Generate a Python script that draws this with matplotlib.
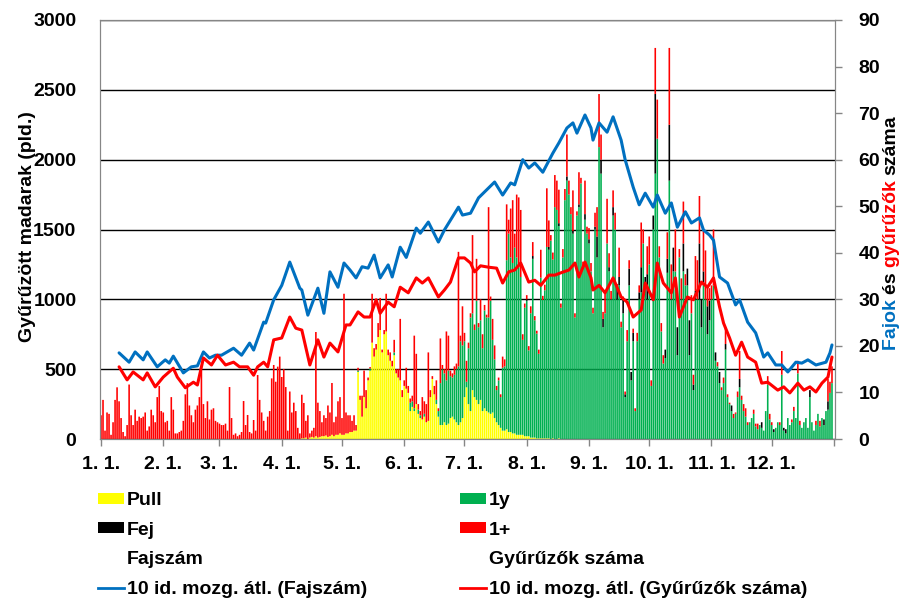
import numpy as np
import matplotlib
matplotlib.use("Agg")
import matplotlib.pyplot as plt
from matplotlib.patches import Patch
from matplotlib.lines import Line2D

plt.rcParams['font.family'] = ['Liberation Sans', 'DejaVu Sans']
plt.rcParams['font.weight'] = 'bold'
plt.rcParams['font.size'] = 14

# -------------------------
# DATA (day of year 0..364)
# -------------------------
month_starts = [0, 31, 59, 90, 120, 151, 181, 212, 243, 273, 304, 334]
month_labels = ['1. 1.', '2. 1.', '3. 1.', '4. 1.', '5. 1.', '6. 1.',
                '7. 1.', '8. 1.', '9. 1.', '10. 1.', '11. 1.', '12. 1.']

# Pull (juveniles), days 100..242, zero otherwise
pull = [0] * 100 + [
    5, 5, 10, 0, 10, 15, 10, 20, 10, 15, 20, 20, 25, 15, 20, 30, 20, 30, 30, 40,
    # May
    30, 30, 40, 40, 50, 50, 60, 60, 480, 280, 160, 300, 220, 420, 490, 690,
    590, 640, 730, 780, 620, 750, 770, 600, 560, 520, 600, 470, 440, 420, 300,
    # June
    380, 360, 330, 200, 230, 200, 250, 180, 150, 140, 160, 120, 130, 300, 430,
    320, 250, 160, 100, 100, 120, 100, 110, 150, 160, 140, 120, 100, 120, 150,
    # July
    300, 370, 250, 200, 350, 300, 280, 250, 280, 200, 220, 200, 190, 180, 190,
    150, 120, 100, 80, 60, 60, 70, 50, 50, 40, 40, 30, 30, 30, 30, 20,
    # August
    20, 20, 10, 10, 10, 5, 5, 5, 5, 5, 5, 5, 0, 5, 0, 0, 5, 0, 0, 0, 0, 0, 0,
    0, 0, 0, 0, 0, 0, 0, 0,
] + [0] * 122

# 1y
egyeves = [0] * 120 + [
    # May
    0, 0, 0, 0, 0, 0, 0, 0, 10, 0, 0, 0, 0, 0, 15, 0, 0, 0, 0, 0, 0, 0, 0, 0,
    0, 0, 20, 0, 0, 0, 0,
    # June
    0, 0, 0, 60, 40, 20, 0, 30, 20, 0, 20, 0, 0, 0, 0, 0, 30, 40, 300, 400,
    350, 320, 380, 300, 280, 320, 380, 420, 580, 520,
    # July
    400, 40, 400, 670, 550, 480, 710, 550, 570, 450, 700, 670, 680, 810, 520,
    420, 230, 320, 220, 450, 460, 1210, 1420, 1250, 1220, 1330, 1270, 1200,
    1130, 680, 920,
    # August
    970, 615, 890, 1280, 840, 750, 605, 1150, 990, 1060, 1370, 1350, 1420,
    1280, 1660, 1640, 1520, 940, 1300, 1710, 1850, 1750, 1610, 1470, 870,
    1600, 1660, 1830, 1230, 1570, 1470,
    # September
    1400, 1200, 900, 1500, 1300, 2090, 1900, 800, 900, 1400, 1200, 1000, 1600,
    1500, 1000, 1100, 800, 900, 300, 700, 1100, 420, 700, 200, 700, 1000, 1050,
    1400, 1100, 1000,
    # October
    1250, 380, 1500, 1900, 2150, 1300, 770, 540, 580, 1190, 1850, 1000, 1200,
    1200, 600, 1300, 1000, 1200, 1100, 1100, 600, 900, 350, 1000, 1000, 1000,
    800, 1100, 1000, 750, 850,
    # November
    1000, 1100, 560, 520, 400, 350, 400, 640, 300, 250, 200, 150, 180, 300,
    370, 280, 200, 160, 100, 120, 150, 180, 90, 70, 100, 80, 60, 200, 390, 140,
    # December
    100, 50, 80, 120, 100, 460, 60, 40, 150, 100, 120, 200, 150, 470, 100, 80,
    120, 150, 80, 300, 120, 60, 100, 180, 90, 150, 100, 200, 210, 330, 400,
]

# Fej
fej = [0] * 212 + [
    # August
    10, 0, 0, 20, 0, 0, 0, 0, 0, 0, 0, 20, 0, 0, 0, 0, 20, 0, 0, 0, 30, 0, 0,
    20, 0, 0, 20, 0, 0, 40, 0,
    # September
    30, 0, 0, 20, 150, 0, 100, 60, 0, 0, 30, 0, 60, 0, 80, 60, 0, 100, 20, 0,
    120, 60, 60, 0, 0, 50, 180, 0, 60, 180,
    # October
    0, 0, 100, 570, 0, 0, 0, 0, 60, 100, 400, 0, 170, 0, 200, 0, 0, 200, 0,
    120, 250, 0, 40, 60, 0, 400, 200, 100, 0, 200, 140,
    # November
    0, 0, 60, 0, 80, 0, 0, 40, 0, 0, 40, 0, 0, 0, 60, 0, 0, 0, 0, 0, 0, 0, 0,
    0, 0, 40, 0, 0, 0, 0,
    # December
    0, 20, 0, 0, 0, 0, 20, 30, 0, 0, 0, 0, 0, 0, 0, 0, 0, 0, 0, 50, 0, 0, 0,
    0, 0, 0, 40, 0, 60, 0, 0,
]

# 1+
idos = [
    # January
    170, 280, 60, 190, 180, 30, 120, 280, 370, 270, 150, 50, 20, 100, 390,
    170, 100, 210, 130, 160, 150, 160, 190, 60, 90, 210, 170, 120, 300, 380, 200,
    # February
    190, 120, 130, 60, 300, 210, 40, 40, 50, 60, 130, 320, 400, 240, 170, 120,
    210, 240, 300, 490, 250, 150, 270, 140, 210, 220, 130, 120,
    # March
    110, 100, 100, 110, 60, 372, 150, 30, 40, 20, 30, 50, 272, 100, 172, 50,
    40, 136, 60, 458, 280, 190, 130, 60, 160, 200, 434, 530, 410, 518, 590,
    # April
    444, 500, 372, 60, 340, 190, 260, 200, 80, 40, 312, 253, 120, 170, 30, 45,
    70, 746, 250, 185, 100, 150, 125, 225, 170, 371, 100, 130, 240, 260,
    # May
    120, 1010, 150, 130, 120, 80, 110, 40, 20, 30, 150, 190, 130, 20, 10, 350,
    60, 40, 100, 230, 20, 30, 270, 40, 60, 40, 90, 30, 60, 440, 50,
    # June
    40, 150, 50, 30, 40, 520, 360, 40, 30, 160, 90, 130, 490, 50, 20, 60, 140,
    20, 320, 30, 30, 350, 250, 40, 30, 60, 40, 820, 40, 280,
    # July
    60, 150, 40, 30, 560, 40, 300, 30, 150, 100, 40, 20, 790, 30, 150, 100, 30,
    20, 20, 80, 50, 400, 100, 350, 450, 100, 450, 500, 480, 40, 30,
    # August
    30, 30, 50, 100, 30, 20, 30, 200, 30, 40, 420, 190, 40, 50, 230, 210, 240,
    30, 60, 80, 300, 100, 50, 290, 30, 30, 230, 40, 40, 240, 50,
    # September
    80, 60, 40, 100, 210, 380, 180, 50, 150, 320, 100, 60, 120, 120, 30, 210,
    40, 20, 20, 80, 60, 0, 30, 20, 60, 50, 320, 100, 0, 200,
    # October
    200, 40, 0, 330, 280, 80, 60, 60, 0, 190, 550, 250, 0, 300, 0, 60, 150,
    300, 80, 0, 0, 130, 70, 250, 280, 340, 0, 300, 350, 150, 90,
    # November
    100, 400, 0, 30, 0, 20, 40, 120, 20, 10, 0, 30, 10, 40, 200, 30, 50, 60,
    20, 0, 0, 30, 20, 40, 0, 0, 0, 0, 60, 40,
    # December
    20, 0, 0, 0, 20, 170, 0, 0, 0, 0, 20, 30, 0, 90, 30, 0, 0, 0, 0, 0, 0, 0,
    30, 0, 40, 0, 0, 0, 160, 80, 120,
]

# 10-day moving averages (right axis)
fajszam_days = [9, 14, 17, 21, 23, 28, 32, 34, 36, 41, 45, 48, 51, 54, 57, 60,
                66, 70, 74, 76, 81, 82, 86, 90, 94, 99, 100, 103, 108, 111,
                114, 118, 121, 124, 127, 130, 133, 136, 139, 143, 145, 149,
                152, 157, 159, 163, 168, 171, 174, 178, 180, 184, 188, 192,
                196, 200, 204, 206, 210, 213, 216, 220, 225, 228, 232, 235,
                237, 241, 244, 245, 248, 252, 255, 259, 261, 265, 268, 271,
                275, 277, 281, 284, 287, 291, 294, 298, 300, 303, 305, 308,
                312, 316, 318, 322, 326, 330, 332, 336, 339, 342, 346, 349,
                352, 356, 361, 363, 364]
fajszam_ma = [18.5, 16.5, 18.7, 17, 18.7, 15.5, 17, 16.3, 17.8, 14.2, 15.5,
              15.7, 18.7, 17.4, 18, 18, 19.5, 18, 20.6, 19.1, 25.1, 24.9, 29.9,
              33, 38, 32.4, 32, 26.6, 32.4, 27, 35.9, 32.6, 37.8, 36.3, 34.6,
              37, 36.7, 39.5, 34.6, 37.4, 34.8, 41.2, 39, 45.3, 44.2, 46.6,
              42.3, 44.9, 47, 49.8, 48.1, 48.5, 51.8, 53.5, 55.2, 52.4, 55,
              54.6, 60, 58.2, 59.3, 57.3, 61.4, 63.6, 66.8, 67.9, 65.7, 69.6,
              66.8, 64.2, 67.9, 65.9, 69.2, 64.2, 60, 54.1, 50.3, 52.8, 49.8,
              52.4, 48.5, 50.7, 45.5, 48.8, 46.4, 47.5, 44.9, 43.8, 42.7, 34.8,
              33.5, 28.8, 29.9, 25.1, 22.8, 17.6, 18.5, 15.9, 15.9, 14.4, 16.5,
              16.3, 17, 15.9, 16.5, 18.5, 20.2]

gyuruzo_days = [9, 13, 16, 21, 23, 27, 31, 36, 38, 42, 46, 48, 51, 55, 58, 62,
                66, 69, 73, 76, 78, 81, 83, 86, 90, 94, 97, 100, 104, 108, 111,
                114, 118, 122, 124, 128, 131, 134, 137, 139, 143, 146, 149, 153,
                157, 160, 163, 168, 171, 174, 178, 181, 184, 186, 189, 193, 197,
                200, 203, 206, 209, 213, 216, 219, 223, 226, 229, 233, 236, 238,
                241, 244, 245, 248, 251, 255, 259, 262, 265, 269, 271, 275, 277,
                280, 284, 286, 288, 292, 295, 299, 302, 305, 308, 310, 313, 316,
                319, 322, 326, 329, 332, 337, 340, 343, 347, 350, 353, 356, 359,
                362, 364]
gyuruzo_ma = [15.5, 12.7, 14.4, 12.7, 14.2, 11.2, 13.3, 15.2, 13.3, 11, 12.2,
              11.6, 17.4, 15.9, 18, 15.9, 16.5, 15.5, 15.5, 13.7, 15.5, 16.5,
              15.5, 21.3, 21.7, 26.2, 23.8, 23.4, 15.9, 21.3, 17.6, 20.6, 18.7,
              24.5, 24.5, 27.3, 26.2, 26.2, 29.9, 27, 29.4, 28.4, 32.6, 31.4,
              34.6, 33.5, 34.6, 30.5, 32, 33.7, 38.9, 38.9, 37.8, 35.9, 37.2,
              36.9, 36.7, 33.5, 35.9, 36.3, 37.8, 33.7, 34.1, 33, 35.2, 35.2,
              35.7, 36.3, 37.8, 34.8, 38, 34.6, 32, 33, 31.4, 34.6, 30.5, 29.4,
              26.2, 27.7, 33.5, 29.9, 37.8, 33.5, 31.4, 34.6, 26.2, 30.5, 29.9,
              33.7, 32.6, 34.6, 28.4, 24.9, 21.7, 18, 20.8, 17.6, 16.5, 12,
              12.2, 10.5, 11.2, 9.9, 12, 10.5, 11.2, 10.1, 12, 13.3, 17.6]

assert len(pull) == len(egyeves) == len(fej) == len(idos) == 365

# -------------------------
# PLOTTING
# -------------------------
days = np.arange(365)
pull = np.array(pull, dtype=float)
egyeves = np.array(egyeves, dtype=float)
fej = np.array(fej, dtype=float)
idos = np.array(idos, dtype=float)

fig = plt.figure(figsize=(9.06, 6.01), dpi=100)
ax = fig.add_axes([100 / 906, 1 - 439 / 601, 735 / 906, 419 / 601])

spine_gray = '#868686'
# thin daily bars: no pixel snapping so they blend like the original
bar_kw = dict(width=0.8, linewidth=0, edgecolor='none', snap=False)
ax.bar(days, pull, color='#ffff00', **bar_kw)
ax.bar(days, egyeves, bottom=pull, color='#00b050', **bar_kw)
ax.bar(days, fej, bottom=pull + egyeves, color='#000000', **bar_kw)
ax.bar(days, idos, bottom=pull + egyeves + fej, color='#ff0000', **bar_kw)

ax.set_xlim(-0.5, 365.5)
ax.set_ylim(0, 3000)
ax.set_yticks(np.arange(0, 3001, 500))
ax.set_axisbelow(True)
ax.yaxis.grid(True, color='black', linewidth=1.0)
ax.set_xticks(month_starts + [365])
ax.set_xticklabels(month_labels + [''])
ax.tick_params(axis='x', direction='out', length=5, width=1, color=spine_gray, pad=7)
ax.tick_params(axis='y', length=0, pad=17)
for s in ax.spines.values():
    s.set_color(spine_gray)

ax2 = ax.twinx()
ax2.plot(fajszam_days, fajszam_ma, color='#0070c0', linewidth=2.2,
         solid_joinstyle='round', solid_capstyle='round')
ax2.plot(gyuruzo_days, gyuruzo_ma, color='#ff0000', linewidth=2.2,
         solid_joinstyle='round', solid_capstyle='round')
ax2.set_ylim(0, 90)
ax2.set_yticks(np.arange(0, 91, 10))
ax2.tick_params(axis='y', direction='out', length=5, width=1, color=spine_gray, pad=12)
for s in ax2.spines.values():
    s.set_color(spine_gray)

# left axis title
fig.text(28 / 906, 1 - 227 / 601, 'Gyűrűzött madarak (pld.)', rotation=90,
         ha='center', va='center', fontsize=14)

# right axis title in several colours
renderer = fig.canvas.get_renderer()
y_px = 601 - 350
for piece, col in [('Fajok ', '#0070c0'), ('és ', 'black'),
                   ('gyűrűzők ', '#ff0000'), ('száma', 'black')]:
    t = fig.text(891 / 906, y_px / 601, piece, rotation=90, ha='center',
                 va='bottom', color=col, fontsize=14)
    y_px += t.get_window_extent(renderer=renderer).height

# legend
handles = [
    Patch(facecolor='#ffff00'), Patch(facecolor='#000000'),
    Patch(facecolor='none', edgecolor='none'),
    Line2D([], [], color='#0070c0', linewidth=2.0),
    Patch(facecolor='#00b050'), Patch(facecolor='#ff0000'),
    Patch(facecolor='none', edgecolor='none'),
    Line2D([], [], color='#ff0000', linewidth=2.0),
]
labels = ['Pull', 'Fej', 'Fajszám', '10 id. mozg. átl. (Fajszám)',
          '1y', '1+', 'Gyűrűzők száma', '10 id. mozg. átl. (Gyűrűzők száma)']
fig.legend(handles, labels, loc='upper left', bbox_to_anchor=(98 / 906, 1 - 492 / 601),
           ncol=2, frameon=False, handlelength=1.35, handleheight=0.5,
           handletextpad=0.12, labelspacing=0.65, columnspacing=4.8,
           borderaxespad=0, borderpad=0)

fig.savefig('out.png', dpi=100)
